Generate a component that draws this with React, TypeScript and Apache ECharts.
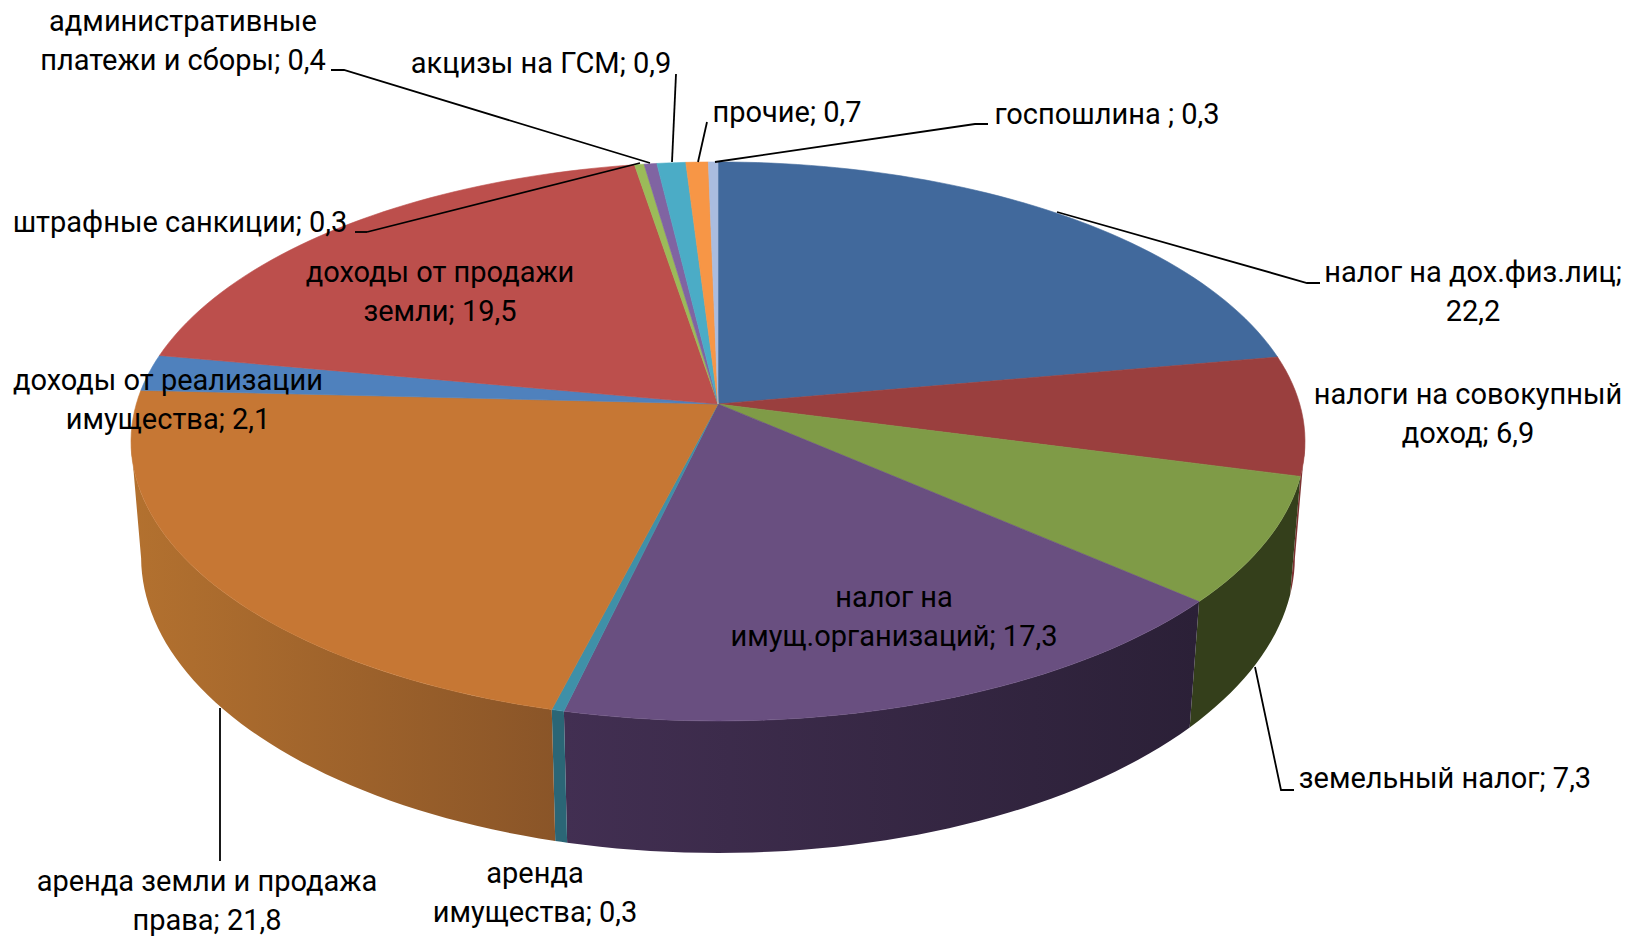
import React, { useEffect, useRef } from "react";
import * as echarts from "echarts";

const categories = [
  "налог на дох.физ.лиц;\n22,2",
  "налоги на совокупный\nдоход; 6,9",
  "земельный налог; 7,3",
  "налог на\nимущ.организаций; 17,3",
  "аренда\nимущества; 0,3",
  "аренда земли и продажа\nправа; 21,8",
  "доходы от реализации\nимущества; 2,1",
  "доходы от продажи\nземли; 19,5",
  "штрафные санкиции; 0,3",
  "административные\nплатежи и сборы; 0,4",
  "акцизы на ГСМ; 0,9",
  "прочие; 0,7",
  "госпошлина ; 0,3",
];
const values = [22.2, 6.9, 7.3, 17.3, 0.3, 21.8, 2.1, 19.5, 0.3, 0.4, 0.9, 0.7, 0.3];
const topColors = ["#41699c", "#9a3f3e", "#7f9b47", "#694f80", "#3f90a8", "#c67734", "#4f81bd", "#bc4f4c", "#9bbb59", "#8064a2", "#4bacc6", "#f79646", "#aabcdf"];
const wallColors: string[][] = [
  ["#2e4a6e", "#2e4a6e"], ["#7c3231", "#7c3231"], ["#343f1b", "#343f1b"], ["#422f52", "#2b2037"], ["#2b6676", "#2b6676"],
  ["#b3712f", "#8a5528"], ["#3a5f8c", "#3a5f8c"], ["#8c3a38", "#8c3a38"], ["#728a42", "#728a42"], ["#5e4a78", "#5e4a78"],
  ["#387f92", "#387f92"], ["#b66f34", "#b66f34"], ["#7d8aa4", "#7d8aa4"],
];

// label centre [x, y] for each category, in pixels
const labelCentres: number[][] = [
  [1473, 291], [1468, 413], [1445, 777.5], [894, 616.5], [535, 892.5], [207, 900.5], [168, 399],
  [440, 291], [180, 221.5], [183, 40.5], [541, 62.5], [787, 112], [1107, 114],
];
const leaderLines: number[][][] = [
  [[1057, 212], [1307, 283], [1320, 283]],
  [[1255, 667], [1281, 790], [1294, 790]],
  [[220, 708], [220, 861]],
  [[367, 232], [355, 232]],
  [[640, 163], [367, 232]],
  [[331, 70], [344, 70], [650, 163]],
  [[676, 74], [672, 162]],
  [[707, 122], [698, 162]],
  [[715, 162], [975, 124], [988, 124]],
];

const topDisc = { x: 718, y: 404, a: 581.7, b: 274.5, p: 0.134 };
const bottomDisc = { x: 718, y: 518.5, a: 572, b: 291, p: 0.13 };
const lineGap = 39;

const total = values.reduce((s, v) => s + v, 0);
const starts: number[] = [];
values.reduce((s, v, i) => ((starts[i] = s), s + v), 0);

// the wall can be seen only between the two points where the rim turns back
const wallFrom = Math.acos(-topDisc.p);
const wallTo = Math.PI * 2 - wallFrom;

type Disc = typeof topDisc;
const project = (d: Disc, theta: number) => {
  const u = Math.sin(theta);
  const v = Math.cos(theta);
  const w = 1 + d.p * v;
  return [d.x + (d.a * u) / w, d.y - (d.b * v) / w];
};
const sliceRange = (i: number) => [
  (starts[i] / total) * Math.PI * 2,
  ((starts[i] + values[i]) / total) * Math.PI * 2,
];
const arc = (d: Disc, a0: number, a1: number) => {
  const n = Math.max(2, Math.ceil((a1 - a0) / (Math.PI / 120)));
  const pts: number[][] = [];
  for (let k = 0; k <= n; k++) pts.push(project(d, a0 + ((a1 - a0) * k) / n));
  return pts;
};

export default function App() {
  const ref = useRef<HTMLDivElement>(null);
  useEffect(() => {
    const chart = echarts.init(ref.current!, undefined, { renderer: "svg" });
    const data = values.map((v) => [v]);
    const fontFamily = "Roboto";
    const labelLines = categories.flatMap((text, i) => {
      const lines = text.split("\n");
      return lines.map((line, k) => ({
        type: "text",
        z: 60,
        silent: true,
        x: labelCentres[i][0],
        y: labelCentres[i][1] + (k - (lines.length - 1) / 2) * lineGap,
        style: {
          text: line,
          fill: "#000000",
          font: `29px ${fontFamily}`,
          align: "center",
          verticalAlign: "middle",
        },
      }));
    });
    chart.setOption({
      animation: false,
      backgroundColor: "#ffffff",
      series: [
        {
          type: "custom",
          name: "walls",
          coordinateSystem: "none",
          silent: true,
          z: 1,
          data,
          renderItem: (params: any) => {
            const i = params.dataIndex;
            const [s0, s1] = sliceRange(i);
            const a0 = Math.max(s0, wallFrom);
            const a1 = Math.min(s1, wallTo);
            if (a1 <= a0) return null;
            const pts = [...arc(topDisc, a0, a1), ...arc(bottomDisc, a0, a1).reverse()];
            const c = wallColors[i];
            const fill = new echarts.graphic.LinearGradient(0, 0, 1, 0, [
              { offset: 0, color: c[0] },
              { offset: 1, color: c[1] },
            ]);
            return { type: "polygon", shape: { points: pts }, style: { fill } };
          },
        },
        {
          type: "custom",
          name: "tops",
          coordinateSystem: "none",
          silent: true,
          z: 2,
          data,
          renderItem: (params: any) => {
            const i = params.dataIndex;
            const [s0, s1] = sliceRange(i);
            const pts = [[topDisc.x, topDisc.y], ...arc(topDisc, s0, s1)];
            return {
              type: "polygon",
              shape: { points: pts },
              style: { fill: topColors[i], stroke: topColors[i], lineWidth: 0.6 },
            };
          },
        },
      ],
      graphic: [
        ...leaderLines.map((points) => ({
          type: "polyline",
          z: 50,
          silent: true,
          shape: { points },
          style: { stroke: "#000000", lineWidth: 1.8, fill: "none" },
        })),
        ...labelLines,
      ],
    });
    return () => chart.dispose();
  }, []);
  return (
    <div
      ref={ref}
      style={{ position: "fixed", left: 0, top: 0, width: 1625, height: 937, background: "#fff" }}
    />
  );
}
